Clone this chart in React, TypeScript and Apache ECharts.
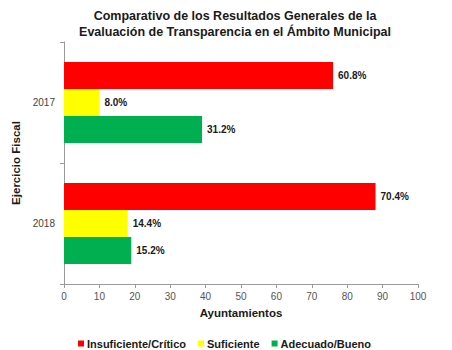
import React, { useEffect, useRef } from "react";
import * as echarts from "echarts";

const years = ["2017", "2018"];
const seriesNames = ["Insuficiente/Crítico", "Suficiente", "Adecuado/Bueno"];
const seriesColors = ["#FF0000", "#FFFF00", "#00B050"];
const insuficiente = [76, 88];
const suficiente = [10, 18];
const adecuado = [39, 19];
const insuficientePct = ["60.8%", "70.4%"];
const suficientePct = ["8.0%", "14.4%"];
const adecuadoPct = ["31.2%", "15.2%"];
const xTicks = [0, 10, 20, 30, 40, 50, 60, 70, 80, 90, 100];

const FONT = "'Liberation Sans', Arial, sans-serif";

export default function App() {
  const ref = useRef<HTMLDivElement>(null);
  useEffect(() => {
    if (!ref.current) return;
    const chart = echarts.init(ref.current, undefined, { renderer: "svg" });
    const values = [insuficiente, suficiente, adecuado];
    const pcts = [insuficientePct, suficientePct, adecuadoPct];
    chart.setOption({
      animation: false,
      backgroundColor: "#ffffff",
      textStyle: { fontFamily: FONT },
      title: {
        text: "Comparativo de los Resultados Generales de la\nEvaluación de Transparencia en el Ámbito Municipal",
        left: 230,
        textAlign: "center",
        top: 3,
        textStyle: { fontFamily: FONT, fontSize: 12.5, fontWeight: "bold", color: "#1a1a1a", lineHeight: 16 },
      },
      legend: {
        data: seriesNames,
        left: 73,
        top: 333,
        icon: "rect",
        itemWidth: 6,
        itemHeight: 6,
        itemGap: 12,
        textStyle: { fontFamily: FONT, fontSize: 11, fontWeight: "bold", color: "#1a1a1a", padding: [0, 0, 0, -2] },
      },
      grid: { left: 64, right: 34, top: 42, bottom: 66 },
      xAxis: {
        type: "value",
        min: xTicks[0],
        max: xTicks[xTicks.length - 1],
        interval: 10,
        name: "Ayuntamientos",
        nameLocation: "middle",
        nameGap: 23,
        nameTextStyle: { fontFamily: FONT, fontSize: 11.5, fontWeight: "bold", color: "#1a1a1a" },
        axisLine: { show: true, lineStyle: { color: "#9a9a9a" } },
        axisTick: { show: true, length: 4, lineStyle: { color: "#9a9a9a" } },
        axisLabel: { fontFamily: FONT, fontSize: 10, color: "#555", margin: 7 },
        splitLine: { show: false },
      },
      yAxis: {
        type: "category",
        data: years,
        inverse: true,
        name: "Ejercicio Fiscal",
        nameLocation: "middle",
        nameGap: 40,
        nameRotate: 90,
        nameTextStyle: { fontFamily: FONT, fontSize: 11.5, fontWeight: "bold", color: "#1a1a1a" },
        axisLine: { show: true, lineStyle: { color: "#9a9a9a" } },
        axisTick: { show: true, length: 4, lineStyle: { color: "#9a9a9a" } },
        axisLabel: { fontFamily: FONT, fontSize: 10, color: "#444", margin: 9 },
      },
      series: seriesNames.map((name, i) => ({
        name,
        type: "bar",
        data: values[i],
        barGap: "0%",
        barCategoryGap: "33%",
        itemStyle: { color: seriesColors[i] },
        label: {
          show: true,
          position: "right",
          distance: 5,
          fontFamily: FONT,
          fontSize: 10,
          fontWeight: "bold",
          color: "#1a1a1a",
          formatter: (p: any) => pcts[i][p.dataIndex],
        },
      })),
    });
    return () => chart.dispose();
  }, []);
  return <div ref={ref} style={{ position: "fixed", left: 0, top: 0, width: 452, height: 350 }} />;
}
